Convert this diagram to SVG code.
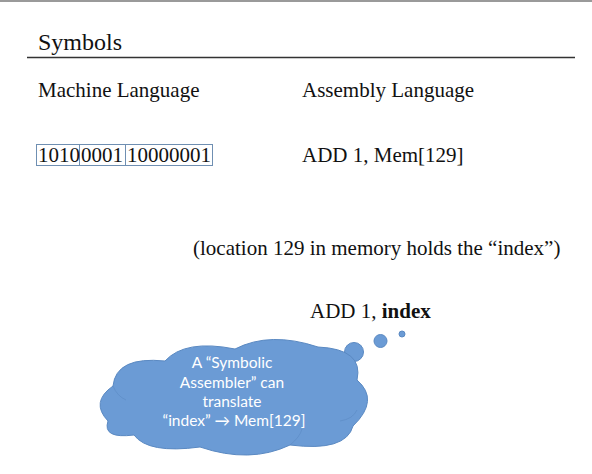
<svg xmlns="http://www.w3.org/2000/svg" width="592" height="474" viewBox="0 0 592 474">
<style>
.serif{font-family:"Liberation Serif","Times New Roman",serif;fill:#111;font-size:21px}
.cloudtxt{font-family:Lato,"Liberation Sans",sans-serif;fill:#ffffff;font-size:15.5px;text-anchor:middle}
.cloud{fill:#6b9bd5;stroke:#5a89c2;stroke-width:1}
.inner{fill:none;stroke:#5a89c2;stroke-width:0.8;opacity:0.7}
</style>
<rect x="0" y="0" width="592" height="474" fill="#ffffff"/>
<rect x="0" y="0" width="592" height="2" fill="#9a9a9a"/>
<g id="title">
<text x="38" y="50" font-family="Liberation Serif, Times New Roman, serif" font-size="24" fill="#111">Symbols</text>
<line x1="27" y1="57.5" x2="575" y2="57.5" stroke="#333" stroke-width="1.5"/>
</g>
<g id="machine-language">
<text class="serif" x="38" y="97">Machine Language</text>
</g>
<g id="assembly-language">
<text class="serif" x="302" y="97">Assembly Language</text>
</g>
<g id="binary">
<rect x="36.5" y="144.5" width="176" height="21" fill="none" stroke="#6f8fb2" stroke-width="1"/>
<line x1="79.5" y1="144.5" x2="79.5" y2="165.5" stroke="#6f8fb2" stroke-width="1"/>
<line x1="125.5" y1="144.5" x2="125.5" y2="165.5" stroke="#6f8fb2" stroke-width="1"/>
<text class="serif" x="38" y="162">1010</text>
<text class="serif" x="81" y="162">0001</text>
<text class="serif" x="127" y="162">10000001</text>
</g>
<g id="assembly-mem">
<text class="serif" x="302" y="162">ADD 1, Mem[129]</text>
</g>
<g id="location-note">
<text class="serif" x="193" y="255">(location 129 in memory holds the “index”)</text>
</g>
<g id="assembly-index">
<text class="serif" x="310" y="318">ADD 1, <tspan font-weight="bold">index</tspan></text>
</g>
<g id="cloud">
<circle class="cloud" cx="402" cy="334" r="3"/>
<circle class="cloud" cx="380.5" cy="341" r="6.5"/>
<circle class="cloud" cx="354" cy="352" r="9.5"/>
<path class="cloud" d="M 108 421 Q 90 402 113 386 Q 116 356 165 361 Q 185 339 235 349 Q 270 331 318 347 Q 364 349 357 380 Q 380 400 353 426 Q 346 452 290 445 Q 250 464 200 447 Q 148 454 134 435 Q 102 439 108 421 Z"/>
<path class="inner" d="M 113 386 Q 117 396 126 400"/>
<path class="inner" d="M 340 421 Q 353 419 357 410"/>
<path class="inner" d="M 290 445 Q 300 437 302 429"/>
<text class="cloudtxt" x="232" y="368">A “Symbolic</text>
<text class="cloudtxt" x="232" y="388">Assembler” can</text>
<text class="cloudtxt" x="232" y="407">translate</text>
<text class="cloudtxt" x="234" y="426">“index” → Mem[129]</text>
</g>
</svg>
